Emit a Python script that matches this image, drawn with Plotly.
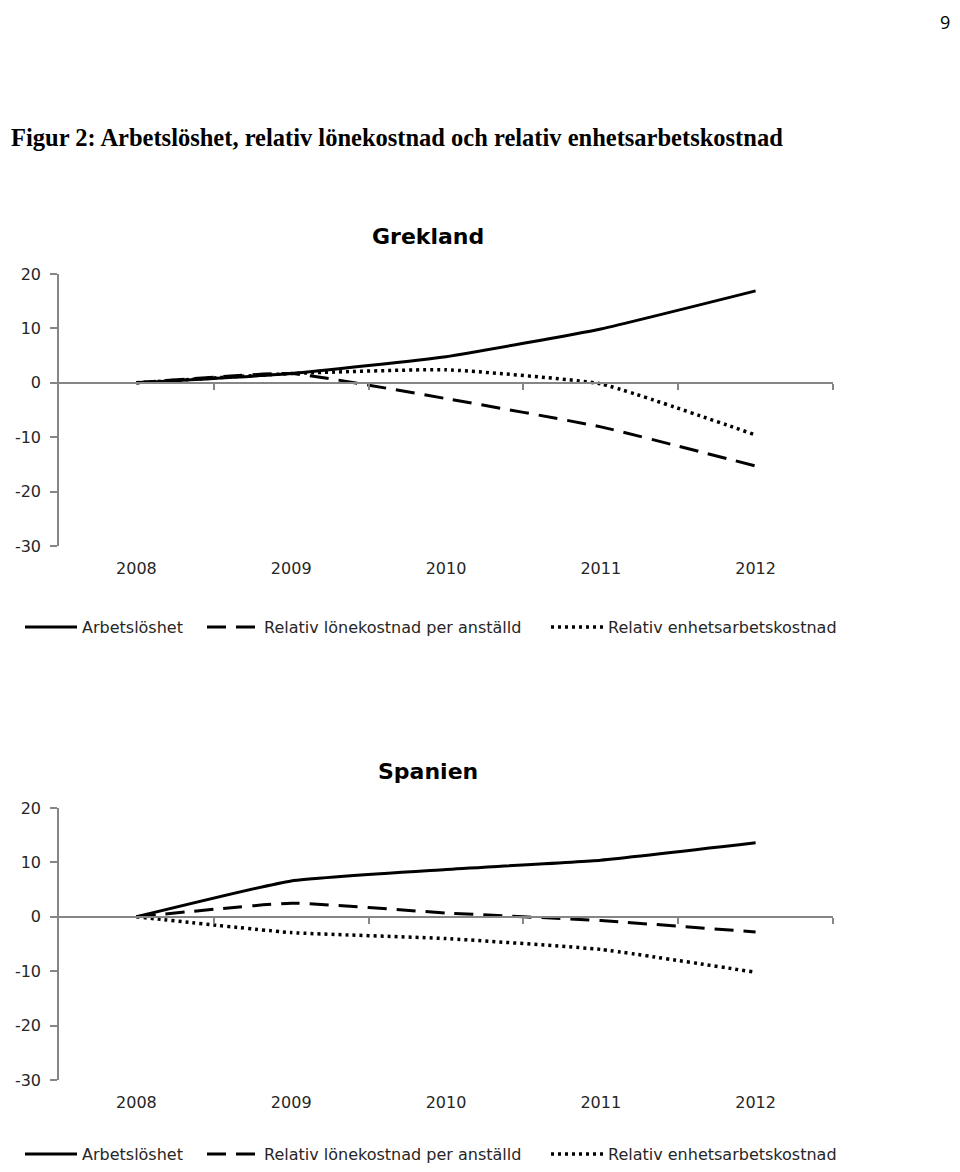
import plotly.graph_objects as go

years = [2008, 2009, 2010, 2011, 2012]
tick_bounds = [2008.5, 2009.5, 2010.5, 2011.5, 2012.5]
y_ticks = [-30, -20, -10, 0, 10, 20]
y_tick_text = ["-30", "-20", "-10", "0", "10", "20"]

series_names = ["Arbetslöshet", "Relativ lönekostnad per anställd", "Relativ enhetsarbetskostnad"]

# Grekland
gr_arbetsloshet = [0, 1.7, 4.8, 9.9, 16.9]
gr_lonekostnad = [0, 1.7, -2.9, -8.1, -15.3]
gr_enhetskostnad = [0, 1.7, 2.4, -0.2, -9.6]

# Spanien
es_arbetsloshet = [0, 6.6, 8.7, 10.4, 13.6]
es_lonekostnad = [0, 2.5, 0.7, -0.7, -2.8]
es_enhetskostnad = [0, -2.9, -4.0, -6.0, -10.2]

# the page body adds an 8px margin all round, so the figure is smaller than the window
OFF = 8
W, H = 960 - 2 * OFF, 1172 - 2 * OFF
FONT = "DejaVu Sans"
TEXT = "#262626"
AXIS = "#868686"

styles = [
    dict(color="black", width=3),
    dict(color="black", width=3, dash="19px,10px"),
    dict(color="black", width=3.5, dash="3px,4px"),
]
legend_x = [25, 207, 551]  # where each legend symbol starts on the page


def px_x(v):
    return (v - OFF) / W


def px_y(v):
    return 1 - (v - OFF) / H


fig = go.Figure()

panels = [
    ("Grekland", [gr_arbetsloshet, gr_lonekostnad, gr_enhetskostnad], 274, 546, 627, 237),
    ("Spanien", [es_arbetsloshet, es_lonekostnad, es_enhetskostnad], 808, 1080, 1154, 771),
]

layout = dict(
    width=W,
    height=H,
    margin=dict(l=0, r=0, t=0, b=0, autoexpand=False),
    paper_bgcolor="white",
    plot_bgcolor="white",
    font=dict(family=FONT, size=16, color=TEXT),
    annotations=[],
    showlegend=True,
)

leg_idx = 0
for i, (title, data, top, bottom, leg_y, title_y) in enumerate(panels):
    n = i + 1
    xa = "x" if n == 1 else f"x{n}"
    ya = "y" if n == 1 else f"y{n}"
    for j, (name, vals, st) in enumerate(zip(series_names, data, styles)):
        leg_idx += 1
        leg = "legend" if leg_idx == 1 else f"legend{leg_idx}"
        fig.add_trace(go.Scatter(
            x=years, y=vals, name=name, mode="lines",
            line=dict(shape="spline", smoothing=0.4, **st),
            xaxis=xa, yaxis=ya, legend=leg,
        ))
        layout[leg] = dict(
            orientation="h", x=px_x(legend_x[j] - 5), y=px_y(leg_y),
            yanchor="middle", xanchor="left",
            font=dict(size=16, color=TEXT), itemwidth=52, bgcolor="rgba(0,0,0,0)",
        )
    dom_x = [px_x(59), px_x(833)]
    dom_y = [px_y(bottom), px_y(top)]
    layout[f"xaxis{'' if n == 1 else n}"] = dict(
        domain=dom_x, range=[2007.5, 2012.5], anchor=ya,
        tickvals=years, ticktext=[str(y) for y in years],
        showline=False, showgrid=False, zeroline=False, ticks="",
        tickfont=dict(size=16, color=TEXT), ticklabelstandoff=11, automargin=False,
    )
    layout[f"yaxis{'' if n == 1 else n}"] = dict(
        domain=dom_y, range=[-30, 20], anchor=xa,
        tickvals=y_ticks, ticktext=y_tick_text, showgrid=False,
        showline=True, linecolor=AXIS, linewidth=1.5,
        ticks="outside", ticklen=7, tickcolor=AXIS, tickwidth=1.5,
        zeroline=False, tickfont=dict(size=16, color=TEXT),
        ticklabelstandoff=6, automargin=False,
    )
    # category axis crossing at zero, ticks between categories
    zero_pos = dom_y[0] + (0 - (-30)) / 50 * (dom_y[1] - dom_y[0])
    layout[f"xaxis{n + 2}"] = dict(
        domain=dom_x, range=[2007.5, 2012.5], overlaying=xa,
        anchor="free", position=zero_pos, side="bottom",
        tickvals=tick_bounds, showticklabels=False,
        showline=True, linecolor=AXIS, linewidth=1.5,
        ticks="outside", ticklen=6, tickcolor=AXIS, tickwidth=1.5,
        showgrid=False, zeroline=False, automargin=False,
    )
    layout["annotations"].append(dict(
        text=f"<b>{title}</b>", x=px_x(428), y=px_y(title_y), xref="paper", yref="paper",
        xanchor="center", yanchor="middle",
        showarrow=False, font=dict(size=22, color="black", family=FONT),
    ))

# dummy traces so the overlay axes are drawn
for n in (3, 4):
    fig.add_trace(go.Scatter(x=[None], y=[None], xaxis=f"x{n}", yaxis="y" if n == 3 else "y2",
                             showlegend=False, hoverinfo="skip"))

layout["annotations"].append(dict(
    text="<b>Figur 2: Arbetslöshet, relativ lönekostnad och relativ enhetsarbetskostnad</b>",
    x=px_x(9), y=px_y(137), xref="paper", yref="paper", xanchor="left", yanchor="middle",
    showarrow=False, font=dict(size=24.5, color="black", family="Liberation Serif"),
))
layout["annotations"].append(dict(
    text="9", x=1.0, y=1.0, xref="paper", yref="paper", xanchor="right", yanchor="top",
    showarrow=False, font=dict(size=18, color="black", family="Open Sans"),
))

fig.update_layout(**layout)
fig.write_html("out.html")
